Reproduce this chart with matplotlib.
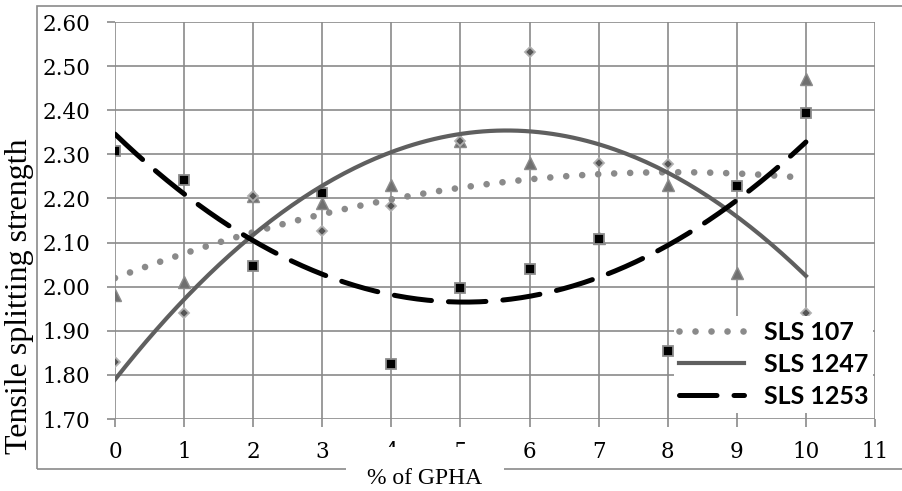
import numpy as np
from matplotlib import pyplot as plt
from matplotlib.patches import Rectangle

# % of GPHA
gpha = np.arange(0, 11)

# tensile splitting strength per mix
sls_107 = [1.98, 2.01, 2.205, 2.19, 2.23, 2.33, 2.28, 2.11, 2.23, 2.03, 2.47]
sls_1247 = [1.83, 1.94, 2.205, 2.127, 2.183, 2.331, 2.531, 2.28, 2.277, 2.23, 1.941]
sls_1253 = [2.307, 2.242, 2.047, 2.213, 1.824, 1.996, 2.039, 2.109, 1.854, 2.228, 2.393]

x_ticks = list(range(0, 12))
y_ticks = [1.70, 1.80, 1.90, 2.00, 2.10, 2.20, 2.30, 2.40, 2.50, 2.60]

grid_grey = '#8a8a8a'

fig = plt.figure(figsize=(9.03, 4.91), dpi=100)
ax = fig.add_axes([115/903, 1-419/491, 760/903, 397/491])

# scatter markers
ax.plot(gpha, sls_107, linestyle='none', marker='^', markersize=8.5,
        markerfacecolor='#707070', markeredgecolor='#8c8c8c', markeredgewidth=1.0, zorder=3)
ax.plot(gpha, sls_1247, linestyle='none', marker='D', markersize=5.5,
        markerfacecolor='#555555', markeredgecolor='#b0b0b0', markeredgewidth=1.3, zorder=4)
ax.plot(gpha, sls_1253, linestyle='none', marker='s', markersize=7.5,
        markerfacecolor='#000000', markeredgecolor='#8c8c8c', markeredgewidth=1.3, zorder=5)

# 2nd order polynomial trendlines
x_fit = np.linspace(0, 10, 200)
fit_107 = np.polyval(np.polyfit(gpha, sls_107, 2), x_fit)
fit_1247 = np.polyval(np.polyfit(gpha, sls_1247, 2), x_fit)
fit_1253 = np.polyval(np.polyfit(gpha, sls_1253, 2), x_fit)

l107, = ax.plot(x_fit, fit_107, color='#8a8a8a', linewidth=4.8, linestyle=(0, (0.001, 2.4)),
                dash_capstyle='round', zorder=6)
l1247, = ax.plot(x_fit, fit_1247, color='#5f5f5f', linewidth=3.0, zorder=6)
l1253, = ax.plot(x_fit, fit_1253, color='#000000', linewidth=3.6, linestyle=(0, (7.5, 3.4)),
                 dash_capstyle='round', zorder=6)

ax.set_xlim(0, 11)
ax.set_ylim(1.70, 2.60)
ax.set_xticks(x_ticks)
ax.set_yticks(y_ticks)
ax.set_yticklabels(['%.2f' % v for v in y_ticks])
ax.grid(True, color=grid_grey, linewidth=1.2)
ax.set_axisbelow(True)
for s in ax.spines.values():
    s.set_visible(False)
ax.tick_params(axis='both', length=6, width=1.2, color=grid_grey, labelsize=15.5)
ax.tick_params(axis='x', pad=10)
ax.tick_params(axis='y', pad=12)
for lab in ax.get_xticklabels() + ax.get_yticklabels():
    lab.set_family('DejaVu Serif')

leg = ax.legend([l107, l1247, l1253], ['SLS 107', 'SLS 1247', 'SLS 1253'],
                loc='lower right', bbox_to_anchor=(886/903, 1-425/491),
                bbox_transform=fig.transFigure, frameon=True, framealpha=1,
                facecolor='white', edgecolor='none', handlelength=2.6,
                handletextpad=0.8, labelspacing=0.36, borderpad=0.2,
                prop={'family': 'Lato', 'weight': 'bold', 'size': 18})
leg.set_zorder(7)

# outer chart frame
fig.patches.append(Rectangle((37/903, 1-469/491), 0.98, 463/491, transform=fig.transFigure,
                             fill=False, edgecolor=grid_grey, linewidth=1.2))

fig.text(20/903, 0.397, 'Tensile splitting strength', rotation=90, ha='center', va='center',
         fontsize=23, family='Liberation Serif')
fig.text(425/903, 1-479/491, '% of GPHA', ha='center', va='center', fontsize=17,
         family='Liberation Serif', zorder=10,
         bbox=dict(facecolor='white', edgecolor='none', boxstyle='square,pad=0.9'))

plt.savefig('out.png', dpi=100)
